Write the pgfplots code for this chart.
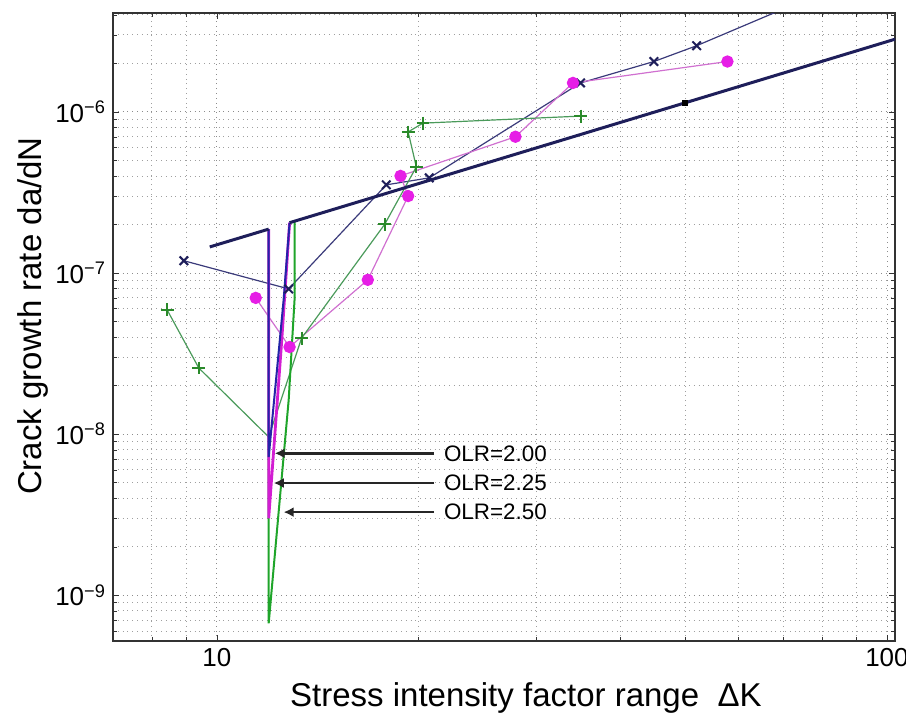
\documentclass[border=0pt]{standalone}
\usepackage{pgfplots}
\pgfplotsset{compat=1.18}
\usepackage{fontspec}
\setmainfont{Liberation Sans}
\usetikzlibrary{arrows.meta}

\definecolor{parisnavy}{HTML}{1E1E5A}
\definecolor{olrblue}{HTML}{2424A8}
\definecolor{olrmag}{HTML}{D21ED2}
\definecolor{olrgreen}{HTML}{1FA52A}
\definecolor{xnavy}{HTML}{3A3A7A}
\definecolor{dotmag}{HTML}{E61EE6}
\definecolor{linemag}{HTML}{D070D0}
\definecolor{plusgreen}{HTML}{2A8A2A}
\definecolor{linegreen}{HTML}{4A9A5A}

\begin{document}
\begin{tikzpicture}
\begin{axis}[
    scale only axis, width=391pt, height=314pt,
    xmode=log, ymode=log,
    xmin=7, xmax=102.8, ymin=5.2e-10, ymax=4.1e-6,
    xtick={10,100}, xticklabels={10,100},
    minor xtick={7,8,9,20,30,40,50,60,70,80,90},
    ytick={1e-9,1e-8,1e-7,1e-6},
    yticklabels={10\textsuperscript{−9},10\textsuperscript{−8},10\textsuperscript{−7},10\textsuperscript{−6}},
    minor ytick={6e-10,7e-10,8e-10,9e-10,2e-9,3e-9,4e-9,5e-9,6e-9,7e-9,8e-9,9e-9,
        2e-8,3e-8,4e-8,5e-8,6e-8,7e-8,8e-8,9e-8,2e-7,3e-7,4e-7,5e-7,6e-7,7e-7,8e-7,9e-7,
        2e-6,3e-6,4e-6},
    grid=both,
    major grid style={dotted, gray!90},
    minor grid style={dotted, gray!75},
    axis line style={gray!40!black, line width=0.7pt},
    major tick length=3pt, minor tick length=1.8pt,
    tick style={gray!40!black},
    tick label style={font=\fontsize{13}{15}\selectfont},
    label style={font=\fontsize{16.5}{19}\selectfont},
    xlabel={Stress intensity factor range\ \ ΔK},
    ylabel={Crack growth rate da/dN},
    xlabel style={at={(axis description cs:0.528,-0.105)}, anchor=base},
    ylabel style={at={(axis description cs:-0.0908,0.5175)}, anchor=base},
]
% scatter series
\addplot[xnavy, line width=0.6pt, mark=x, mark size=3pt, mark options={solid, line width=1pt, draw=parisnavy}]
  coordinates {(8.93,1.19e-7) (12.8,7.96e-8) (17.9,3.52e-7) (20.75,3.89e-7)
               (34.9,1.51e-6) (44.9,2.05e-6) (52.0,2.57e-6)};
\addplot[xnavy, line width=0.6pt] coordinates {(52.0,2.57e-6) (75,4.9e-6)};

\addplot[linemag, line width=0.6pt, mark=*, mark size=2.8pt, mark options={fill=dotmag, draw=dotmag}]
  coordinates {(11.43,7.0e-8) (12.84,3.47e-8) (16.8,9.06e-8) (19.3,3.0e-7)
               (18.8,4.0e-7) (27.9,7.0e-7) (34.0,1.51e-6) (57.8,2.05e-6)};

\addplot[linegreen, line width=0.6pt, mark=+, mark size=3.2pt, mark options={draw=plusgreen, line width=1pt},
  mark indices={1,2,4,5,6,7,8,9}]
  coordinates {(8.43,5.9e-8) (9.4,2.57e-8) (11.95,9.6e-9) (13.38,3.94e-8) (17.8,2.0e-7)
               (19.85,4.55e-7) (19.3,7.5e-7) (20.3,8.5e-7) (34.9,9.4e-7)};

% overload retardation curves
\addplot[olrgreen, line width=1pt] coordinates {(11.95,1.87e-7) (11.95,6.7e-10) (12.8,1.63e-8) (13.06,6.8e-8) (13.06,2.09e-7)};
\addplot[olrmag, line width=1.4pt] coordinates {(11.95,1.87e-7) (11.95,3.0e-9) (12.5,3.84e-8) (12.84,2.05e-7)};
\addplot[olrblue, line width=1pt] coordinates {(11.95,1.87e-7) (11.95,7.2e-9) (12.58,6.8e-8) (12.84,2.05e-7)};

% Paris line
\addplot[parisnavy, line width=1.5pt] coordinates {(9.76,1.45e-7) (11.95,1.87e-7)};
\addplot[parisnavy, line width=1.5pt] coordinates {(12.84,2.05e-7) (102.8,2.82e-6)};
\addplot[only marks, mark=square*, mark size=1.2pt, black] coordinates {(50,1.137e-6)};

% arrows
\draw[-{Latex[length=5pt,width=5pt]}, line width=1.5pt, black!85] (axis cs:21.1,7.6e-9) -- (axis cs:12.2,7.6e-9);
\draw[-{Latex[length=5pt,width=5pt]}, line width=1.1pt, black!85] (axis cs:21.1,4.97e-9) -- (axis cs:12.16,4.97e-9);
\draw[-{Latex[length=5pt,width=5pt]}, line width=1.1pt, black!85] (axis cs:21.1,3.28e-9) -- (axis cs:12.58,3.28e-9);
\node[anchor=west, inner sep=0pt, font=\fontsize{11.2}{13}\selectfont] at (axis cs:21.8,7.6e-9) {OLR=2.00};
\node[anchor=west, inner sep=0pt, font=\fontsize{11.2}{13}\selectfont] at (axis cs:21.8,4.97e-9) {OLR=2.25};
\node[anchor=west, inner sep=0pt, font=\fontsize{11.2}{13}\selectfont] at (axis cs:21.8,3.28e-9) {OLR=2.50};
\end{axis}
\pgfresetboundingbox
\path[use as bounding box] ([xshift=-56.5pt,yshift=-38pt]current axis.south west)
  rectangle ([xshift=5.5pt,yshift=6.5pt]current axis.north east);
\end{tikzpicture}
\end{document}
